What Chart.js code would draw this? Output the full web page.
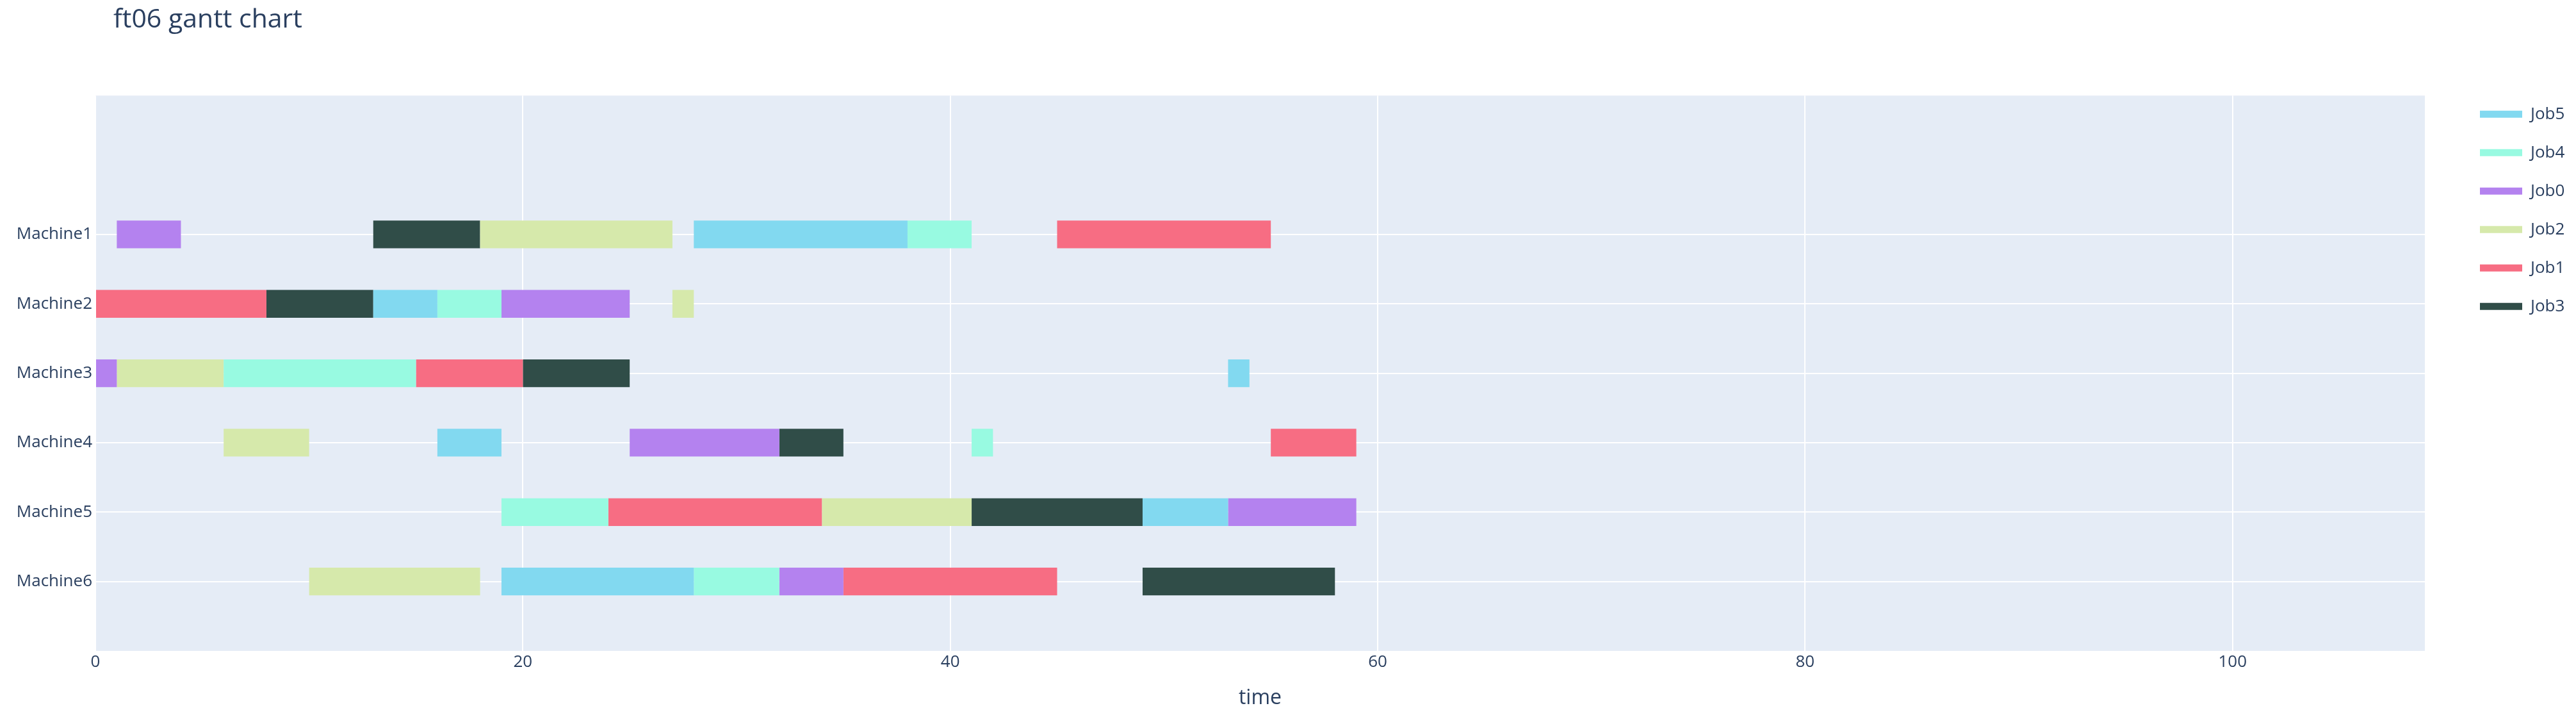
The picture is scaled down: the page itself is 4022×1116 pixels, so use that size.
<!DOCTYPE html>
<html>
<head>
<meta charset="utf-8">
<script src="https://cdn.jsdelivr.net/npm/chart.js@4.4.1/dist/chart.umd.min.js"></script>
<style>
  html, body { margin: 0; padding: 0; background: #ffffff; }
  #wrap { width: 4022px; height: 1116px; }
</style>
</head>
<body>
<div id="wrap"><canvas id="c" width="4022" height="1116"></canvas></div>
<script>
// ---- data ----
const machines = ['Machine1', 'Machine2', 'Machine3', 'Machine4', 'Machine5', 'Machine6'];
const jobLabels = ['Job5', 'Job4', 'Job0', 'Job2', 'Job1', 'Job3'];
const jobColors = ['#82D9F0', '#98FAE1', '#B482EF', '#D6E9AB', '#F76D83', '#304D48'];
// [machine, start, end]
const job5 = [['Machine1', 28, 38], ['Machine2', 13, 16], ['Machine3', 53, 54], ['Machine4', 16, 19], ['Machine5', 49, 53], ['Machine6', 19, 28]];
const job4 = [['Machine1', 38, 41], ['Machine2', 16, 19], ['Machine3', 6, 15], ['Machine4', 41, 42], ['Machine5', 19, 24], ['Machine6', 28, 32]];
const job0 = [['Machine1', 1, 4], ['Machine2', 19, 25], ['Machine3', 0, 1], ['Machine4', 25, 32], ['Machine5', 53, 59], ['Machine6', 32, 35]];
const job2 = [['Machine1', 18, 27], ['Machine2', 27, 28], ['Machine3', 1, 6], ['Machine4', 6, 10], ['Machine5', 34, 41], ['Machine6', 10, 18]];
const job1 = [['Machine1', 45, 55], ['Machine2', 0, 8], ['Machine3', 15, 20], ['Machine4', 55, 59], ['Machine5', 24, 34], ['Machine6', 35, 45]];
const job3 = [['Machine1', 13, 18], ['Machine2', 8, 13], ['Machine3', 20, 25], ['Machine4', 32, 35], ['Machine5', 41, 49], ['Machine6', 49, 58]];
const jobTasks = [job5, job4, job0, job2, job1, job3];
const xMin = 0, xMax = 109, xStep = 20;
const titleText = 'ft06 gantt chart';
const xTitle = 'time';

// ---- styling ----
const FONT = "'Open Sans', 'DejaVu Sans', sans-serif";
const TEXT = '#2a3f5f';
Chart.defaults.font.family = FONT;
Chart.defaults.color = TEXT;

const legendFontSize = 26, legendBoxW = 66, legendPad = 34;
const plotLeft = 149, plotRight = 3786, plotBottomGap = 100;

const datasets = jobLabels.map((lab, i) => ({
  label: lab,
  data: jobTasks[i].map(t => ({ x: [t[1], t[2]], y: machines.indexOf(t[0]) })),
  backgroundColor: jobColors[i],
  borderColor: jobColors[i],
  borderWidth: 0,
  borderSkipped: false,
  grouped: false,
  categoryPercentage: 0.5,
  barPercentage: 0.8
}));

const tweaks = {
  id: 'tweaks',
  beforeDraw(chart) {
    const { ctx, chartArea: a } = chart;
    ctx.save();
    ctx.fillStyle = '#E5ECF6';
    ctx.fillRect(a.left, a.top, a.right - a.left, a.bottom - a.top);
    ctx.restore();
  },
  afterLayout(chart) {
    const a = chart.chartArea;
    const t = chart.titleBlock;
    if (t) {
      const w = t.right - t.left;
      t.left = a.left + 28;
      t.right = t.left + w;
    }
    const lg = chart.legend;
    if (lg) {
      const pad = lg.options.labels.padding;
      const dx = (a.right + 86) - (lg.left + pad);
      lg.left += dx; lg.right += dx;
      const dy = (a.top + 29 - legendFontSize / 2) - (lg.top + pad);
      lg.top += dy; lg.bottom += dy;
    }
  }
};

const chart = new Chart(document.getElementById('c'), {
  type: 'bar',
  data: { datasets },
  options: {
    indexAxis: 'y',
    responsive: false,
    animation: false,
    layout: { padding: { left: 0, right: 40, top: 0, bottom: 0 } },
    scales: {
      x: {
        type: 'linear',
        min: xMin,
        max: xMax,
        offset: false,
        border: { display: false },
        grid: { color: '#ffffff', lineWidth: 2, drawTicks: false, offset: false },
        ticks: { stepSize: xStep, includeBounds: false, padding: 2, font: { size: 26 }, color: TEXT },
        title: { display: true, text: xTitle, font: { size: 32 }, color: TEXT, padding: { top: 0, bottom: 7 } },
        afterFit(s) { s.height = plotBottomGap; }
      },
      y: {
        type: 'linear',
        reverse: true,
        min: -2,
        max: machines.length,
        offset: false,
        border: { display: false },
        grid: { color: '#ffffff', lineWidth: 2, drawTicks: false, offset: false },
        afterBuildTicks(s) { s.ticks = machines.map((m, i) => ({ value: i })); },
        ticks: {
          padding: 5,
          font: { size: 26 },
          color: TEXT,
          callback: (v) => machines[v] ?? ''
        },
        afterFit(s) { s.width = plotLeft; }
      }
    },
    plugins: {
      title: {
        display: true,
        text: titleText,
        align: 'start',
        color: TEXT,
        font: { size: 41, weight: 'normal' },
        padding: { top: 7, bottom: 93 }
      },
      legend: {
        position: 'right',
        align: 'start',
        labels: {
          boxWidth: legendBoxW,
          boxHeight: 11,
          padding: legendPad,
          color: TEXT,
          font: { size: legendFontSize }
        }
      },
      tooltip: { enabled: false }
    }
  },
  plugins: [tweaks]
});

// second pass: set the right padding so the plot ends where the reference's does
const diff = chart.chartArea.right - plotRight;
if (Math.abs(diff) > 0.5) {
  chart.options.layout.padding.right = Math.max(0, chart.options.layout.padding.right + diff);
  chart.update();
}
</script>
</body>
</html>
